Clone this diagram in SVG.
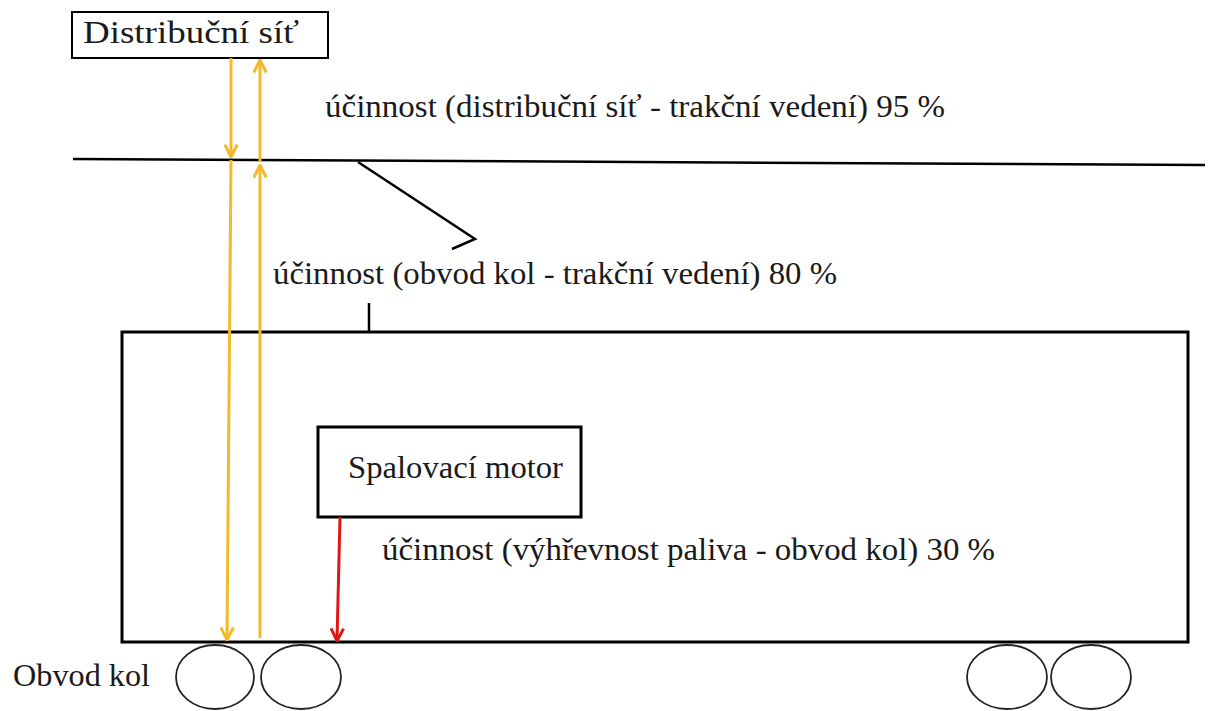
<svg xmlns="http://www.w3.org/2000/svg" width="1211" height="711" viewBox="0 0 1211 711">
  <style>
    .box { fill: #ffffff; stroke: #000000; stroke-width: 2; }
    .car { fill: #ffffff; stroke: #000000; stroke-width: 3; }
    .wire { fill: none; stroke: #000000; stroke-width: 2.5; }
    .wheel { fill: none; stroke: #222222; stroke-width: 1.8; }
    .lbl { font-size: 31px; fill: #1a1a1a; }
    .flow-y { fill: none; stroke: #F2BA2A; stroke-width: 3; }
    .flow-r { fill: none; stroke: #E01515; stroke-width: 3; }
  </style>
  <defs>
    <marker id="ahY" viewBox="0 0 12 12" refX="11" refY="6" markerWidth="5" markerHeight="5" orient="auto" markerUnits="strokeWidth">
      <path d="M1,1 L11,6 L1,11" fill="none" stroke="#F2BA2A" stroke-width="2.4"/>
    </marker>
    <marker id="ahR" viewBox="0 0 12 12" refX="11" refY="6" markerWidth="5" markerHeight="5" orient="auto" markerUnits="strokeWidth">
      <path d="M1,1 L11,6 L1,11" fill="none" stroke="#E01515" stroke-width="2.4"/>
    </marker>
  </defs>

  <rect width="1211" height="711" fill="#ffffff"/>

  <!-- overhead contact line and pantograph -->
  <g id="trolley">
    <line class="wire" x1="73" y1="159" x2="1205" y2="165"/>
    <polyline class="wire" points="358,162 475,239 452,249"/>
    <line class="wire" x1="369" y1="303" x2="369" y2="332"/>
  </g>

  <!-- vehicle body -->
  <g id="vehicle">
    <rect class="car" x="122" y="332" width="1066" height="310"/>
  </g>

  <!-- wheels -->
  <g id="wheels">
    <ellipse class="wheel" cx="215" cy="677" rx="39" ry="32"/>
    <ellipse class="wheel" cx="301" cy="677" rx="40" ry="32"/>
    <ellipse class="wheel" cx="1007" cy="677" rx="40" ry="32"/>
    <ellipse class="wheel" cx="1091" cy="677" rx="40" ry="32"/>
  </g>

  <g font-family="'Liberation Serif', 'DejaVu Serif', serif">
    <!-- grid box -->
    <g id="grid">
      <rect class="box" x="72" y="12" width="256" height="46"/>
      <text class="lbl" x="83" y="43" font-size="28" textLength="216" lengthAdjust="spacingAndGlyphs">Distribuční síť</text>
    </g>

    <!-- engine box -->
    <g id="engine">
      <rect class="car" x="318" y="427" width="263" height="90"/>
      <text class="lbl" x="348" y="478" textLength="215" lengthAdjust="spacingAndGlyphs">Spalovací motor</text>
    </g>

    <!-- efficiency labels -->
    <g id="labels">
      <text class="lbl" x="325" y="117" textLength="620" lengthAdjust="spacingAndGlyphs">účinnost (distribuční síť - trakční vedení) 95 %</text>
      <text class="lbl" x="273" y="284" textLength="564" lengthAdjust="spacingAndGlyphs">účinnost (obvod kol - trakční vedení) 80 %</text>
      <text class="lbl" x="382" y="560" textLength="613" lengthAdjust="spacingAndGlyphs">účinnost (výhřevnost paliva - obvod kol) 30 %</text>
      <text class="lbl" x="13" y="686" textLength="137" lengthAdjust="spacingAndGlyphs">Obvod kol</text>
    </g>
  </g>

  <!-- energy flows -->
  <g id="connectors">
    <line class="flow-y" x1="231" y1="58" x2="231" y2="157" marker-end="url(#ahY)"/>
    <line class="flow-y" x1="260" y1="161" x2="260" y2="60" marker-end="url(#ahY)"/>
    <line class="flow-y" x1="231" y1="160" x2="227" y2="640" marker-end="url(#ahY)"/>
    <line class="flow-y" x1="260" y1="638" x2="260" y2="165" marker-end="url(#ahY)"/>
    <line class="flow-r" x1="340" y1="517" x2="337" y2="641" marker-end="url(#ahR)"/>
  </g>
</svg>
